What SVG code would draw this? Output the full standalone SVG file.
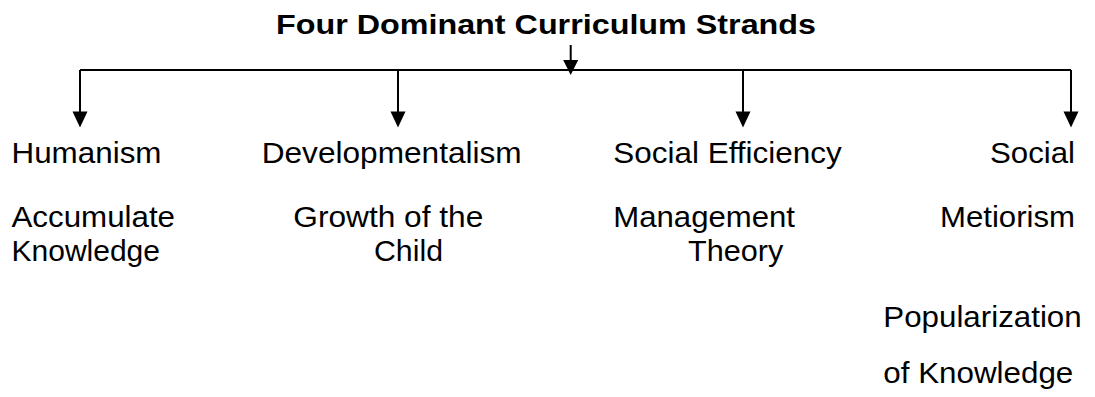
<svg xmlns="http://www.w3.org/2000/svg" width="1095" height="397" viewBox="0 0 1095 397">
<style>
.t{font-family:"Liberation Sans",Arial,sans-serif;font-size:29px;fill:#000}
.h{font-family:"Liberation Sans",Arial,sans-serif;font-size:28px;font-weight:bold;fill:#000}
.c{stroke:#000;stroke-width:2;fill:none}
.a{fill:#000}
</style>
<rect width="1095" height="397" fill="#fff"/>
<g id="title"><text class="h" x="276" y="34" textLength="540" lengthAdjust="spacingAndGlyphs">Four Dominant Curriculum Strands</text></g>
<g id="connectors">
<path class="c" d="M80,70 H1071"/>
<path class="c" d="M570.7,45 V60"/>
<path class="a" d="M563.2,60 H578.2 L570.7,75 Z"/>
<path class="c" d="M80,70 V112"/>
<path class="a" d="M72.5,111.5 H87.5 L80,127.5 Z"/>
<path class="c" d="M398,70 V112"/>
<path class="a" d="M390.5,111.5 H405.5 L398,127.5 Z"/>
<path class="c" d="M743,70 V112"/>
<path class="a" d="M735.5,111.5 H750.5 L743,127.5 Z"/>
<path class="c" d="M1071,70 V112"/>
<path class="a" d="M1063.5,111.5 H1078.5 L1071,127.5 Z"/>
</g>
<g id="humanism">
<text class="t" x="11.5" y="163" textLength="150" lengthAdjust="spacingAndGlyphs">Humanism</text>
<text class="t" x="11.5" y="226.7" textLength="163.5" lengthAdjust="spacingAndGlyphs">Accumulate</text>
<text class="t" x="11.5" y="260.7" textLength="148.5" lengthAdjust="spacingAndGlyphs">Knowledge</text>
</g>
<g id="developmentalism">
<text class="t" x="261.7" y="163.3" textLength="260" lengthAdjust="spacingAndGlyphs">Developmentalism</text>
<text class="t" x="293.3" y="226.7" textLength="190" lengthAdjust="spacingAndGlyphs">Growth of the</text>
<text class="t" x="374" y="260.7" textLength="69" lengthAdjust="spacingAndGlyphs">Child</text>
</g>
<g id="social-efficiency">
<text class="t" x="613.3" y="163.3" textLength="228.4" lengthAdjust="spacingAndGlyphs">Social Efficiency</text>
<text class="t" x="613.3" y="226.7" textLength="181.7" lengthAdjust="spacingAndGlyphs">Management</text>
<text class="t" x="688" y="260.7" textLength="95.3" lengthAdjust="spacingAndGlyphs">Theory</text>
</g>
<g id="social">
<text class="t" x="990" y="163" textLength="85" lengthAdjust="spacingAndGlyphs">Social</text>
<text class="t" x="940" y="226.7" textLength="135" lengthAdjust="spacingAndGlyphs">Metiorism</text>
<text class="t" x="883.3" y="327.3" textLength="198.4" lengthAdjust="spacingAndGlyphs">Popularization</text>
<text class="t" x="883.3" y="383.3" textLength="190" lengthAdjust="spacingAndGlyphs">of Knowledge</text>
</g>
</svg>
